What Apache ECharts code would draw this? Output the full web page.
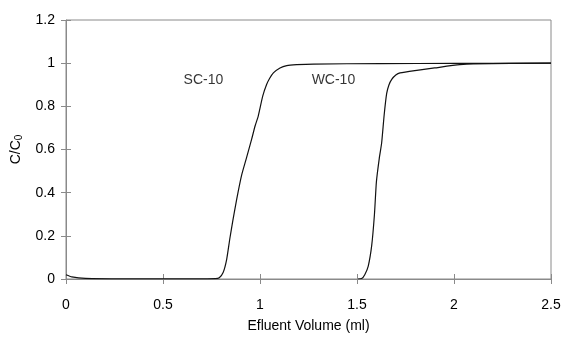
<!DOCTYPE html>
<html>
<head>
<meta charset="utf-8">
<script src="https://cdn.jsdelivr.net/npm/echarts@6/dist/echarts.min.js"></script>
<style>
  html, body { margin: 0; padding: 0; background: #fff; }
  #chart { width: 564px; height: 338px; }
</style>
</head>
<body>
<div id="chart"></div>
<script>
// breakthrough curves
const sc10 = [
  [0, 0.02], [0.03, 0.01], [0.1, 0.003], [0.3, 0.001], [0.6, 0.001], [0.77, 0.002],
  [0.79, 0.006], [0.81, 0.03], [0.828, 0.09], [0.845, 0.19], [0.86, 0.27], [0.88, 0.37],
  [0.905, 0.48], [0.93, 0.56], [0.957, 0.648], [0.975, 0.71], [0.991, 0.755], [1.014, 0.847],
  [1.034, 0.901], [1.05, 0.93], [1.069, 0.955], [1.103, 0.978], [1.138, 0.989], [1.189, 0.993],
  [1.275, 0.996], [1.62, 0.998], [2.0, 0.999], [2.5, 1.0]
];
const wc10 = [
  [1.505, 0.0], [1.524, 0.002], [1.54, 0.02], [1.558, 0.06], [1.576, 0.157], [1.59, 0.3],
  [1.6, 0.45], [1.615, 0.56], [1.627, 0.63], [1.64, 0.76], [1.653, 0.86], [1.665, 0.9],
  [1.679, 0.925], [1.7, 0.945], [1.722, 0.955], [1.808, 0.967], [1.9, 0.978], [2.03, 0.993],
  [2.1, 0.997], [2.5, 1.0]
];
const curveNames = ['SC-10', 'WC-10'];
const labelPos = [[0.711, 0.92], [1.381, 0.92]];

const font = 'Liberation Sans, Arial, sans-serif';
const axisGrey = '#8a8a8a';

const chart = echarts.init(document.getElementById('chart'));
chart.setOption({
  animation: false,
  grid: { left: 66, right: 13, top: 20, bottom: 57, show: true, borderColor: axisGrey, borderWidth: 1 },
  xAxis: [{
    type: 'value', min: 0, max: 2.5, interval: 0.5,
    name: 'Efluent Volume (ml)', nameLocation: 'middle', nameGap: 40,
    nameTextStyle: { fontFamily: font, fontSize: 14, color: '#000' },
    axisLine: { lineStyle: { color: axisGrey } },
    axisTick: { length: 5, lineStyle: { color: axisGrey } },
    axisLabel: { fontFamily: font, fontSize: 14, color: '#000', margin: 19 },
    splitLine: { show: false }
  }, {
    type: 'value', min: 0, max: 2.5, interval: 0.5, position: 'bottom',
    axisLine: { show: false },
    axisTick: { inside: true, length: 5, lineStyle: { color: axisGrey } },
    axisLabel: { show: false }, splitLine: { show: false }
  }],
  yAxis: [{
    type: 'value', min: 0, max: 1.2, interval: 0.2,
    name: '{a|C/C}{b|0}', nameLocation: 'middle', nameGap: 40, nameRotate: 90,
    nameTextStyle: {
      fontFamily: font, color: '#000',
      rich: {
        a: { fontFamily: font, fontSize: 14, color: '#000' },
        b: { fontFamily: font, fontSize: 10, color: '#000', padding: [7, 0, 0, 0] }
      }
    },
    axisLine: { show: true, lineStyle: { color: axisGrey } },
    axisTick: { show: true, length: 5, lineStyle: { color: axisGrey } },
    axisLabel: { fontFamily: font, fontSize: 14, color: '#000', margin: 11 },
    splitLine: { show: false }
  }, {
    type: 'value', min: 0, max: 1.2, interval: 0.2, position: 'left',
    axisLine: { show: false },
    axisTick: { show: true, inside: true, length: 5, lineStyle: { color: axisGrey } },
    axisLabel: { show: false }, splitLine: { show: false }
  }],
  series: [
    {
      name: curveNames[0], type: 'line', data: sc10, showSymbol: false, smooth: 0.2,
      lineStyle: { color: '#111', width: 1.2 }
    },
    {
      name: curveNames[1], type: 'line', data: wc10, showSymbol: false, smooth: 0.2,
      lineStyle: { color: '#111', width: 1.2 }
    },
    {
      type: 'scatter', symbolSize: 1, silent: true,
      itemStyle: { color: 'rgba(0,0,0,0)' },
      data: labelPos.map((p, i) => ({ value: p, name: curveNames[i] })),
      label: {
        show: true, position: [0, 0], align: 'center', verticalAlign: 'middle',
        formatter: '{b}', fontFamily: font, fontSize: 14, color: '#000'
      }
    }
  ]
});
</script>
</body>
</html>
